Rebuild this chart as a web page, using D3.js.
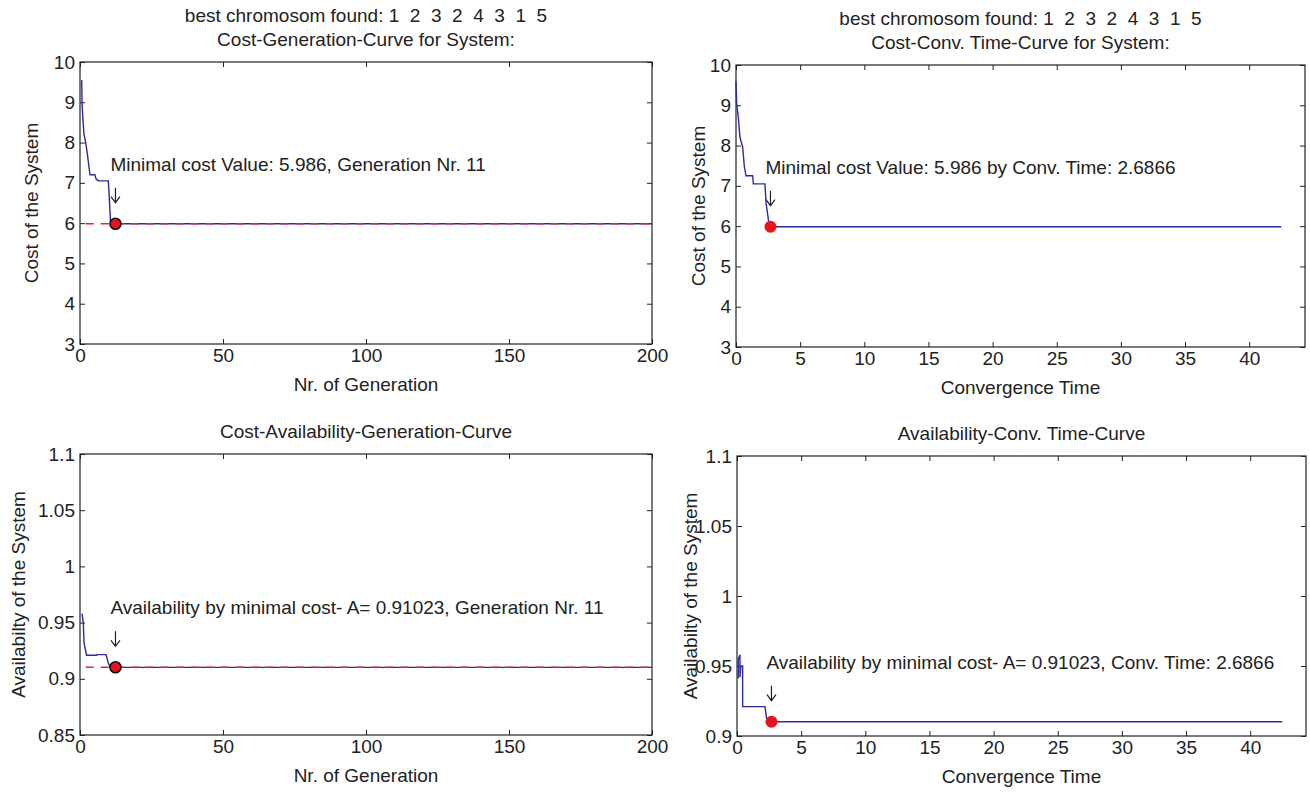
<!DOCTYPE html>
<html>
<head>
<meta charset="utf-8">
<script src="https://cdn.jsdelivr.net/npm/d3@7"></script>
<style>
  body { margin: 0; background: #fff; }
  text { font-family: "Liberation Sans", Arial, sans-serif; fill: #222; }
</style>
</head>
<body>
<div id="chart"></div>
<script>
// Data
var chromosome = [1, 2, 3, 2, 4, 3, 1, 5];
var minCost = 5.986, minAvail = 0.91023, minTime = 2.6866, minGen = 12.4;

// cost vs generation (step curve corners)
var genCostX = [0.6, 0.7, 1.0, 1.4, 2.0, 2.6, 3.3, 3.5, 5.2, 5.6, 6.4, 9.9, 10.2, 10.7, 200];
var genCostY = [9.55, 9.0, 8.6, 8.2, 8.0, 7.7, 7.3, 7.2, 7.2, 7.1, 7.05, 7.05, 6.7, 5.986, 5.986];

// cost vs convergence time
var timeCostX = [0, 0.05, 0.18, 0.31, 0.52, 0.65, 0.78, 1.3, 1.35, 2.26, 2.34, 2.6, 42.5];
var timeCostY = [9.59, 9.05, 8.7, 8.2, 7.97, 7.48, 7.25, 7.25, 7.05, 7.05, 6.58, 5.986, 5.986];

// availability vs generation
var genAvailX = [0.7, 1.15, 1.4, 2.3, 5.8, 6.0, 9.1, 9.8, 10.5, 200];
var genAvailY = [0.958, 0.95, 0.932, 0.921, 0.921, 0.9215, 0.9215, 0.915, 0.9102, 0.9102];

// availability vs convergence time
var timeAvailX = [0.1, 0.1, 0.23, 0.23, 0.3, 0.44, 0.44, 2.18, 2.3, 2.45, 42.5];
var timeAvailY = [0.941, 0.955, 0.958, 0.942, 0.95, 0.95, 0.921, 0.921, 0.913, 0.9102, 0.9102];

// tick values
var genTicks = [0, 50, 100, 150, 200];
var timeTicks = [0, 5, 10, 15, 20, 25, 30, 35, 40];
var costTicks = [3, 4, 5, 6, 7, 8, 9, 10];
var availTicksGen = [0.85, 0.9, 0.95, 1, 1.05, 1.1];
var availTicksTime = [0.9, 0.95, 1, 1.05, 1.1];

var chromTitle = "best chromosom found: " + chromosome.join("  ");

var panels = [
  { box: [80, 652, 62, 344], xDom: [0, 200], yDom: [3, 10], xTicks: genTicks, yTicks: costTicks,
    xs: genCostX, ys: genCostY, mark: [minGen, minCost], ref: true, edge: true,
    titles: [chromTitle, "Cost-Generation-Curve for System:"],
    xLabel: "Nr. of Generation", yLabel: "Cost of the System", yLabelX: 38,
    note: "Minimal cost Value: 5.986, Generation Nr. 11" },
  { box: [736, 1305, 65, 347], xDom: [0, 44.35], yDom: [3, 10], xTicks: timeTicks, yTicks: costTicks,
    xs: timeCostX, ys: timeCostY, mark: [minTime, minCost], ref: false, edge: false,
    titles: [chromTitle, "Cost-Conv. Time-Curve for System:"],
    xLabel: "Convergence Time", yLabel: "Cost of the System", yLabelX: 705,
    note: "Minimal cost Value: 5.986 by Conv. Time: 2.6866" },
  { box: [80, 652, 454, 735], xDom: [0, 200], yDom: [0.85, 1.1], xTicks: genTicks, yTicks: availTicksGen,
    xs: genAvailX, ys: genAvailY, mark: [minGen, minAvail], ref: true, edge: true,
    titles: ["Cost-Availability-Generation-Curve"],
    xLabel: "Nr. of Generation", yLabel: "Availabilty of the System", yLabelX: 25,
    note: "Availability by minimal cost- A= 0.91023, Generation Nr. 11" },
  { box: [737, 1306, 456, 736], xDom: [0, 44.35], yDom: [0.9, 1.1], xTicks: timeTicks, yTicks: availTicksTime,
    xs: timeAvailX, ys: timeAvailY, mark: [minTime, minAvail], ref: false, edge: false,
    titles: ["Availability-Conv. Time-Curve"],
    xLabel: "Convergence Time", yLabel: "Availabilty of the System", yLabelX: 697,
    note: "Availability by minimal cost- A= 0.91023, Conv. Time: 2.6866" }
];

var svg = d3.select("#chart").append("svg")
  .attr("width", 1310)
  .attr("height", 793);

svg.append("rect").attr("width", 1310).attr("height", 793).attr("fill", "#fff");

var fs = 19;

panels.forEach(function(p) {
  var L = p.box[0], R = p.box[1], T = p.box[2], B = p.box[3];
  var x = d3.scaleLinear().domain(p.xDom).range([L, R]);
  var y = d3.scaleLinear().domain(p.yDom).range([B, T]);
  var g = svg.append("g");

  // axes with inward ticks on all four sides
  function styleAxis(sel) {
    sel.select(".domain").remove();
    sel.selectAll("line").attr("stroke", "#222");
    sel.selectAll("text").attr("font-size", fs).attr("font-family", "Liberation Sans, Arial, sans-serif").attr("fill", "#222");
  }
  g.append("g").attr("transform", "translate(0," + B + ")")
    .call(d3.axisBottom(x).tickValues(p.xTicks).tickSizeInner(-5).tickSizeOuter(0).tickPadding(5).tickFormat(String))
    .call(styleAxis);
  g.append("g").attr("transform", "translate(0," + T + ")")
    .call(d3.axisTop(x).tickValues(p.xTicks).tickSizeInner(-5).tickSizeOuter(0).tickFormat(""))
    .call(styleAxis);
  g.append("g").attr("transform", "translate(" + L + ",0)")
    .call(d3.axisLeft(y).tickValues(p.yTicks).tickSizeInner(-5).tickSizeOuter(0).tickPadding(5).tickFormat(String))
    .call(styleAxis);
  g.append("g").attr("transform", "translate(" + R + ",0)")
    .call(d3.axisRight(y).tickValues(p.yTicks).tickSizeInner(-5).tickSizeOuter(0).tickFormat(""))
    .call(styleAxis);

  g.append("rect")
    .attr("x", L).attr("y", T).attr("width", R - L).attr("height", B - T)
    .attr("fill", "none").attr("stroke", "#222").attr("stroke-width", 1.2);

  // curve
  var pts = p.xs.map(function(v, i) { return [v, p.ys[i]]; });
  var line = d3.line().x(function(d) { return x(d[0]); }).y(function(d) { return y(d[1]); });
  g.append("path").datum(pts)
    .attr("d", line)
    .attr("fill", "none").attr("stroke", "#2b2ba0").attr("stroke-width", 1.4);

  // red dashed reference at the minimum
  if (p.ref) {
    g.append("path").datum([[2, p.mark[1]], [p.xDom[1], p.mark[1]]])
      .attr("d", line)
      .attr("fill", "none").attr("stroke", "#e3262a").attr("stroke-width", 1.5)
      .attr("stroke-dasharray", "8,7");
  }

  // marker
  g.append("circle")
    .attr("cx", x(p.mark[0])).attr("cy", y(p.mark[1]))
    .attr("r", p.edge ? 5.5 : 6)
    .attr("fill", "#e8141b")
    .attr("stroke", p.edge ? "#111" : "none").attr("stroke-width", 1.6);

  // annotation + arrow
  var mx = x(p.mark[0]), my = y(p.mark[1]);
  g.append("text").attr("x", mx - 5).attr("y", my - 53).attr("font-size", fs).text(p.note);
  var ax = mx, ay = my - 21;
  g.append("path")
    .attr("d", "M" + ax + "," + (ay - 15) + "V" + ay + "M" + (ax - 4.5) + "," + (ay - 6) + "L" + ax + "," + ay + "L" + (ax + 4.5) + "," + (ay - 6))
    .attr("fill", "none").attr("stroke", "#222").attr("stroke-width", 1.2);

  // titles
  var cx = (L + R) / 2;
  p.titles.forEach(function(t, i) {
    g.append("text")
      .attr("x", cx).attr("y", T - 16 - (p.titles.length - 1 - i) * 24)
      .attr("text-anchor", "middle").attr("font-size", fs)
      .style("white-space", "pre")
      .text(t);
  });

  // axis labels
  g.append("text").attr("x", cx).attr("y", B + 47)
    .attr("text-anchor", "middle").attr("font-size", fs).text(p.xLabel);
  g.append("text")
    .attr("transform", "translate(" + p.yLabelX + "," + ((T + B) / 2) + ") rotate(-90)")
    .attr("text-anchor", "middle").attr("font-size", fs).text(p.yLabel);
});
</script>
</body>
</html>
